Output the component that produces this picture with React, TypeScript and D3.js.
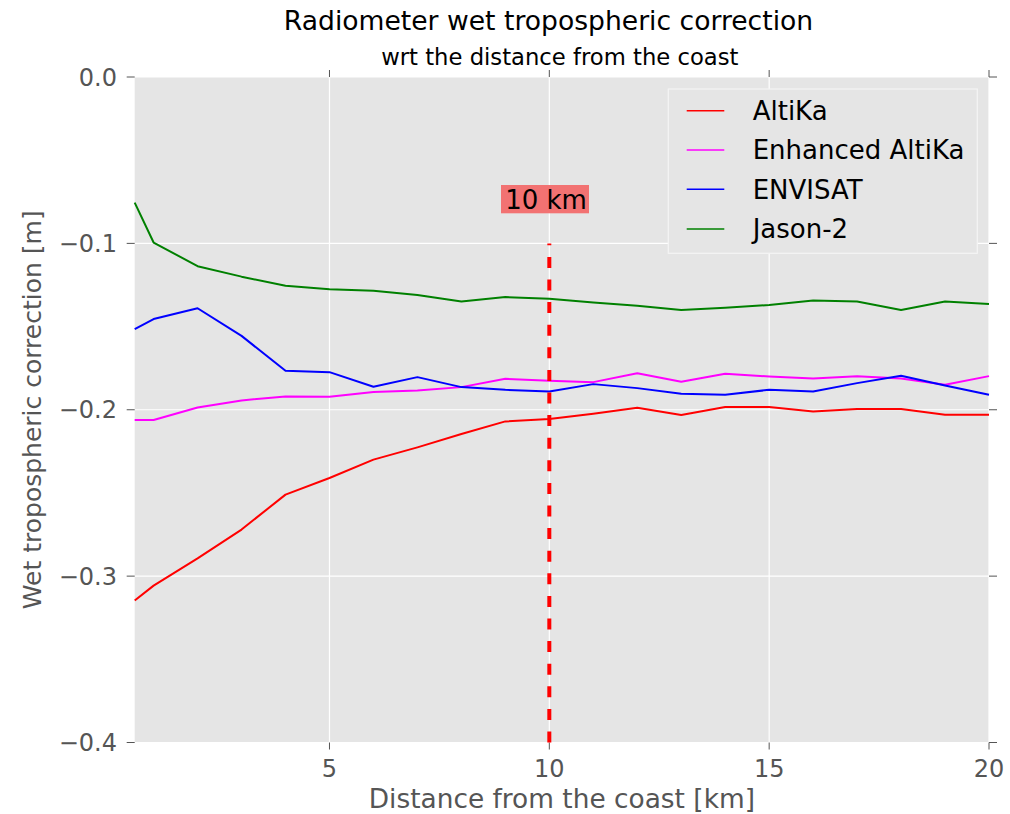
import React from "react";
import * as d3 from "d3";

const distance = [0.57, 1, 2, 3, 4, 5, 6, 7, 8, 9, 10, 11, 12, 13, 14, 15, 16, 17, 18, 19, 20];
const altika = [-0.3147, -0.3057, -0.2893, -0.272, -0.251, -0.241, -0.23, -0.2226, -0.2146, -0.207, -0.2056, -0.2024, -0.1988, -0.2032, -0.1984, -0.1984, -0.201, -0.1996, -0.1996, -0.203, -0.203];
const enhancedAltika = [-0.2062, -0.2062, -0.1986, -0.1944, -0.192, -0.1922, -0.1894, -0.1884, -0.1864, -0.1814, -0.1826, -0.1834, -0.178, -0.1832, -0.1784, -0.18, -0.1812, -0.1798, -0.1812, -0.185, -0.1798];
const envisat = [-0.1515, -0.1455, -0.139, -0.1556, -0.1766, -0.1774, -0.1862, -0.1804, -0.1864, -0.188, -0.189, -0.1846, -0.187, -0.1904, -0.191, -0.188, -0.189, -0.184, -0.1796, -0.1854, -0.191];
const jason2 = [-0.0755, -0.0995, -0.1137, -0.12, -0.1255, -0.1275, -0.1285, -0.131, -0.135, -0.1323, -0.1333, -0.1355, -0.1375, -0.14, -0.1387, -0.137, -0.1343, -0.135, -0.14, -0.135, -0.1365];

const seriesNames = ["AltiKa", "Enhanced AltiKa", "ENVISAT", "Jason-2"];
const seriesColors = ["#ff0000", "#ff00ff", "#0000ff", "#008000"];
const seriesValues = [altika, enhancedAltika, envisat, jason2];

const xTicks = [5, 10, 15, 20];
const yTicks = [0, -0.1, -0.2, -0.3, -0.4];
const markerX = 10;
const markerTop = -0.1;
const markerLabel = "10 km";

const W = 1010;
const H = 814;
const L = 134.7;
const R = 989;
const T = 77;
const B = 742.5;
const FONT = "'DejaVu Sans', sans-serif";

export default function App() {
  const x = d3.scaleLinear().domain([distance[0], 20]).range([L, R]);
  const y = d3.scaleLinear().domain([-0.4, 0]).range([B, T]);
  const line = d3
    .line<[number, number]>()
    .x((d) => x(d[0]))
    .y((d) => y(d[1]));
  const fmt = (v: number) => (v < 0 ? "\u2212" : "") + Math.abs(v).toFixed(1);

  const legendRows = [110.7, 150, 189.3, 229];

  return (
    <svg
      width={W}
      height={H}
      style={{ position: "absolute", left: 0, top: 0, background: "#fff" }}
      fontFamily={FONT}
    >
      <rect x={0} y={0} width={W} height={H} fill="#fff" />
      <rect x={L} y={T} width={R - L} height={B - T} fill="#e5e5e5" />
      {xTicks.map((t) => (
        <line key={"gx" + t} x1={x(t)} x2={x(t)} y1={T} y2={B} stroke="#fff" strokeWidth={1.2} />
      ))}
      {yTicks.map((t) => (
        <line key={"gy" + t} x1={L} x2={R} y1={y(t)} y2={y(t)} stroke="#fff" strokeWidth={1.2} />
      ))}
      {/* ticks */}
      {xTicks.map((t) => (
        <g key={"tx" + t}>
          <line x1={x(t)} x2={x(t)} y1={T} y2={T - 7} stroke="#555" strokeWidth={1} />
          <line x1={x(t)} x2={x(t)} y1={B} y2={B + 7} stroke="#555" strokeWidth={1} />
          <text x={x(t)} y={777} textAnchor="middle" fontSize={24} fill="#555">
            {t}
          </text>
        </g>
      ))}
      {yTicks.map((t) => (
        <g key={"ty" + t}>
          <line x1={L} x2={L - 8} y1={y(t)} y2={y(t)} stroke="#555" strokeWidth={1} />
          <line x1={R} x2={R + 8} y1={y(t)} y2={y(t)} stroke="#555" strokeWidth={1} />
          <text x={117} y={y(t) + 8.7} textAnchor="end" fontSize={24} fill="#555">
            {fmt(t)}
          </text>
        </g>
      ))}
      {/* series */}
      {seriesValues.map((vals, i) => (
        <path
          key={seriesNames[i]}
          d={line(distance.map((d, j) => [d, vals[j]] as [number, number])) || ""}
          fill="none"
          stroke={seriesColors[i]}
          strokeWidth={2}
          strokeLinejoin="round"
        />
      ))}
      {/* marker line */}
      <line
        x1={x(markerX)}
        x2={x(markerX)}
        y1={B}
        y2={y(markerTop)}
        stroke="#ff0000"
        strokeWidth={4}
        strokeDasharray="11 11.6"
      />
      <rect x={501} y={185} width={88} height={28.3} fill="#f27272" />
      <text x={546} y={209} textAnchor="middle" fontSize={26} fill="#000">
        {markerLabel}
      </text>
      {/* legend */}
      <rect x={668.3} y={89} width={309} height={164.3} fill="#e5e5e5" stroke="#f4f4f4" strokeWidth={1.2} />
      {seriesNames.map((n, i) => (
        <g key={"lg" + n}>
          <line x1={686.7} x2={724.3} y1={legendRows[i]} y2={legendRows[i]} stroke={seriesColors[i]} strokeWidth={1.5} />
          <text x={752.7} y={legendRows[i] + 9.3} fontSize={26} fill="#000">
            {n}
          </text>
        </g>
      ))}
      {/* titles */}
      <text x={548.5} y={29.5} textAnchor="middle" fontSize={26.6} fill="#000">
        Radiometer wet tropospheric correction
      </text>
      <text x={(L + R) / 2 - 2} y={65} textAnchor="middle" fontSize={22.7} fill="#000">
        wrt the distance from the coast
      </text>
      <text x={(L + R) / 2} y={808} textAnchor="middle" fontSize={26.4} fill="#555">
        Distance from the coast [km]
      </text>
      <text
        transform={`translate(41,${(T + B) / 2}) rotate(-90)`}
        textAnchor="middle"
        fontSize={25}
        fill="#555"
      >
        Wet tropospheric correction [m]
      </text>
    </svg>
  );
}
